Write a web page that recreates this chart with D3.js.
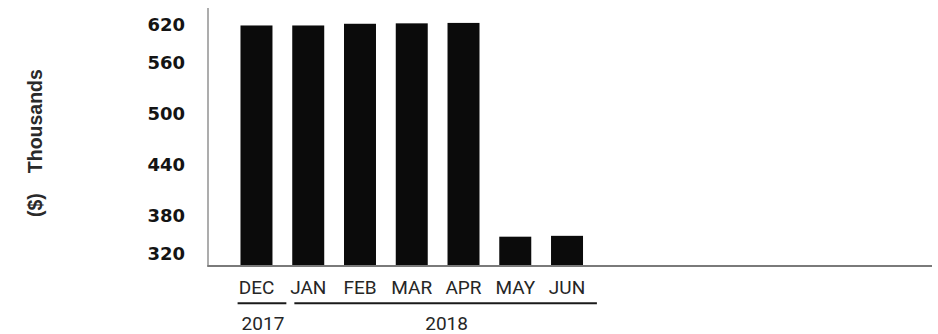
<!DOCTYPE html>
<html>
<head>
<meta charset="utf-8">
<script src="https://cdn.jsdelivr.net/npm/d3@7"></script>
<style>
  html, body { margin: 0; padding: 0; background: #ffffff; }
  svg { display: block; }
</style>
</head>
<body>
<svg id="chart" width="938" height="334"></svg>
<script>
// Monthly totals, in thousands of dollars
const months = ["DEC", "JAN", "FEB", "MAR", "APR", "MAY", "JUN"];
const values = [603, 603, 605, 605.5, 606, 355, 356];
const monthYear = ["2017", "2018", "2018", "2018", "2018", "2018", "2018"];
const years = ["2017", "2018"];
const yTicks = [320, 380, 440, 500, 560, 620];
const yTitle = ["($)", "Thousands"];

const svg = d3.select("#chart");

// Plot frame
const plotLeft = 208, plotRight = 932, plotTop = 8, plotBottom = 266.5;

const x = d3.scaleBand()
  .domain(months)
  .range([230.6, 592.9])
  .paddingInner(0.382)
  .paddingOuter(0.191);

const y = d3.scaleLinear()
  .domain([320, 620])
  .range([plotBottom, 11]);

// Bars
svg.append("g")
  .selectAll("rect")
  .data(months)
  .join("rect")
  .attr("x", d => x(d))
  .attr("width", x.bandwidth())
  .attr("y", (d, i) => y(values[i]))
  .attr("height", (d, i) => y(320) - y(values[i]))
  .attr("fill", "#0b0b0b");

// Axis lines
svg.append("line")
  .attr("x1", plotLeft).attr("x2", plotLeft)
  .attr("y1", plotTop).attr("y2", plotBottom)
  .attr("stroke", "#8a8a8a").attr("stroke-width", 1.4);

svg.append("line")
  .attr("x1", plotLeft - 0.7).attr("x2", plotRight)
  .attr("y1", plotBottom - 0.5).attr("y2", plotBottom - 0.5)
  .attr("stroke", "#7a7a7a").attr("stroke-width", 1.8);

// Y tick labels; the end labels are pulled inward so they sit inside the frame
const endInset = 13;
const yAxis = svg.append("g")
  .attr("transform", "translate(185,0)")
  .call(d3.axisLeft(y).tickValues(yTicks).tickSize(0).tickPadding(0));
yAxis.select(".domain").remove();
yAxis.selectAll(".tick")
  .attr("transform", d => {
    const py = Math.min(Math.max(y(d), y(620) + endInset), y(320) - endInset);
    return `translate(0,${py})`;
  });
yAxis.selectAll(".tick text")
  .attr("x", 0)
  .attr("dy", "0.365em")
  .attr("fill", "#141414")
  .style("font-family", "'DejaVu Sans', sans-serif")
  .style("font-weight", "bold")
  .style("font-size", "18px");

// Y axis title
const title = svg.append("text")
  .attr("transform", "translate(42,217) rotate(-90)")
  .attr("fill", "#2a2a2a")
  .style("font-family", "'Liberation Sans', Arial, sans-serif")
  .style("font-weight", "bold")
  .style("font-size", "19.5px");
title.selectAll("tspan")
  .data(yTitle)
  .join("tspan")
  .attr("dx", (d, i) => i === 0 ? 0 : 20)
  .text(d => d);

// Month labels
const xAxis = svg.append("g")
  .attr("transform", `translate(0,${plotBottom})`)
  .call(d3.axisBottom(x).tickSize(0).tickPadding(0));
xAxis.select(".domain").remove();
xAxis.selectAll(".tick text")
  .attr("y", 27.5)
  .attr("dy", 0)
  .attr("fill", "#262626")
  .style("font-family", "Roboto, 'Liberation Sans', sans-serif")
  .style("font-size", "19px");

// Year brackets under the months
const step = x.step();
const groups = years.map(yr => {
  const ms = months.filter((m, i) => monthYear[i] === yr);
  const first = x(ms[0]) + x.bandwidth() / 2;
  const last = x(ms[ms.length - 1]) + x.bandwidth() / 2;
  return { yr, x1: first - step / 2 + (ms.length > 1 ? 12 : 7), x2: last + step / 2 + 4 };
});

svg.append("g")
  .selectAll("line")
  .data(groups)
  .join("line")
  .attr("x1", d => d.x1)
  .attr("x2", d => d.x2)
  .attr("y1", 303.3).attr("y2", 303.3)
  .attr("stroke", "#1a1a1a")
  .attr("stroke-width", 2);

svg.append("g")
  .selectAll("text")
  .data(groups)
  .join("text")
  .attr("x", d => (d.x1 + d.x2) / 2 + 1)
  .attr("y", 330)
  .attr("text-anchor", "middle")
  .attr("fill", "#262626")
  .style("font-family", "Roboto, 'Liberation Sans', sans-serif")
  .style("font-size", "19px")
  .text(d => d.yr);
</script>
</body>
</html>
